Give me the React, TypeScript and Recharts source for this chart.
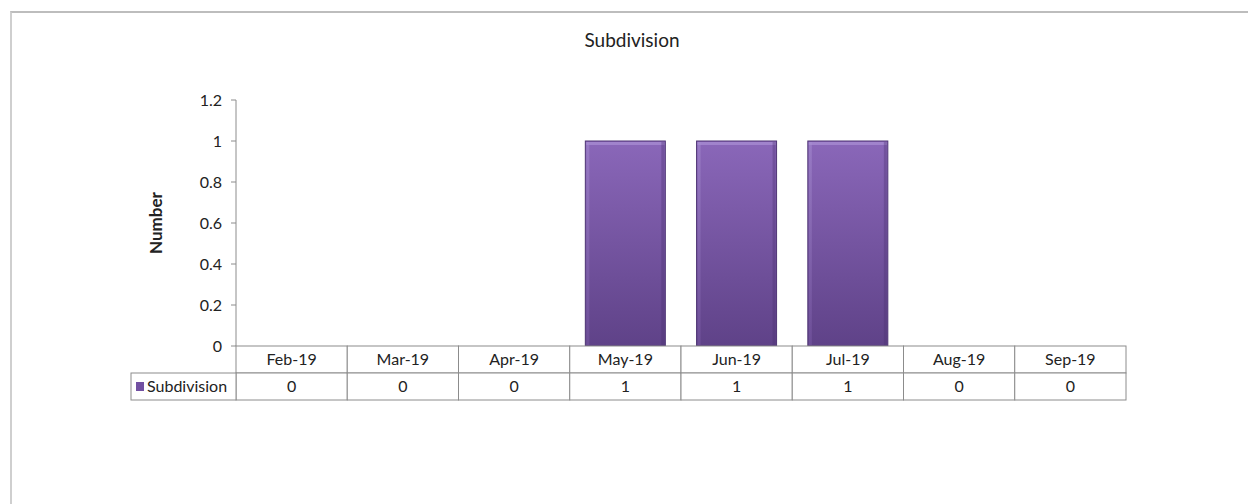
import { BarChart, Bar, XAxis, YAxis, Customized } from 'recharts';

const months = ['Feb-19', 'Mar-19', 'Apr-19', 'May-19', 'Jun-19', 'Jul-19', 'Aug-19', 'Sep-19'];
const subdivision = [0, 0, 0, 1, 1, 1, 0, 0];
const yTicks = [0, 0.2, 0.4, 0.6, 0.8, 1, 1.2];
const seriesName = 'Subdivision';
const chartTitle = 'Subdivision';
const yTitle = 'Number';

const data = months.map((month, i) => ({ month, value: subdivision[i] }));

const FONT = 'Lato, "Open Sans", sans-serif';
const GRID = '#8c8c8c';
const PLOT_LEFT = 236;
const PLOT_RIGHT = 1126;
const COL_W = (PLOT_RIGHT - PLOT_LEFT) / months.length;
const ROW_H = 27;
const LEGEND_W = 105;
const TXT = 16;

// draws one column of the data table under the axis
function TableTick(props: any) {
  const { x, y, payload } = props;
  const idx = payload.index;
  const left = x - COL_W / 2;
  return (
    <g>
      <rect x={left} y={y} width={COL_W} height={ROW_H} fill="#fff" stroke={GRID} />
      <rect x={left} y={y + ROW_H} width={COL_W} height={ROW_H} fill="#fff" stroke={GRID} />
      <text x={x} y={y + 19} textAnchor="middle" fontSize={TXT} fill="#222" fontFamily={FONT}>
        {payload.value}
      </text>
      <text x={x} y={y + ROW_H + 19} textAnchor="middle" fontSize={TXT} fill="#222" fontFamily={FONT}>
        {subdivision[idx]}
      </text>
      {idx === 0 && (
        <g>
          <rect x={left - LEGEND_W} y={y + ROW_H} width={LEGEND_W} height={ROW_H} fill="#fff" stroke={GRID} />
          <rect x={left - LEGEND_W + 5} y={y + ROW_H + 9} width={8} height={9} fill="#7250a2" />
          <text x={left - LEGEND_W + 16} y={y + ROW_H + 19} fontSize={TXT} fill="#222" fontFamily={FONT}>
            {seriesName}
          </text>
        </g>
      )}
    </g>
  );
}

function BevelBar(props: any) {
  const { x, y, width, height } = props;
  if (!height || height <= 0) return null;
  return (
    <g>
      <rect x={x} y={y} width={width} height={height} fill="url(#barGrad)" stroke="#4e3474" strokeWidth={1} />
      <rect x={x + 1} y={y + 1} width={width - 2} height={3} fill="#a68bd1" opacity={0.8} />
      <rect x={x + 1} y={y + 1} width={3} height={height - 2} fill="url(#edgeGrad)" opacity={0.5} />
      <rect x={x + width - 4} y={y + 1} width={3} height={height - 2} fill="#4b3170" opacity={0.35} />
    </g>
  );
}

function Titles() {
  return (
    <g>
      <text x={632} y={47} textAnchor="middle" fontSize={19} fill="#222" fontFamily={FONT}>
        {chartTitle}
      </text>
      <text
        x={155}
        y={223}
        textAnchor="middle"
        dominantBaseline="central"
        fontSize={17}
        fontWeight="bold"
        fill="#222"
        fontFamily={FONT}
        transform="rotate(-90 155 223)"
      >
        {yTitle}
      </text>
    </g>
  );
}

export default function App() {
  return (
    <div style={{ position: 'absolute', left: 0, top: 0, width: 1248, height: 504, background: '#fff' }}>
      <div
        style={{
          position: 'absolute',
          left: 10,
          top: 11,
          width: 1260,
          height: 520,
          borderTop: '2px solid #bdbdbd',
          borderLeft: '2px solid #cfcfcf',
        }}
      />
      <BarChart
        width={1248}
        height={504}
        data={data}
        margin={{ top: 100, right: 1248 - PLOT_RIGHT, bottom: 104, left: 130 }}
        barCategoryGap="14%"
        style={{ position: 'absolute', left: 0, top: 0 }}
      >
        <defs>
          <linearGradient id="barGrad" x1="0" y1="0" x2="0" y2="1">
            <stop offset="0%" stopColor="#8a67b9" />
            <stop offset="100%" stopColor="#5f4288" />
          </linearGradient>
          <linearGradient id="edgeGrad" x1="0" y1="0" x2="0" y2="1">
            <stop offset="0%" stopColor="#a88fd2" />
            <stop offset="100%" stopColor="#7a5aa6" />
          </linearGradient>
        </defs>
        <XAxis
          dataKey="month"
          height={54}
          tickSize={0}
          tickMargin={0}
          axisLine={false}
          tickLine={false}
          tick={<TableTick />}
          interval={0}
        />
        <YAxis
          width={106}
          domain={[0, 1.2]}
          ticks={yTicks}
          interval={0}
          axisLine={{ stroke: GRID }}
          tickLine={{ stroke: GRID }}
          tickSize={5}
          tickMargin={9}
          tick={{ fontSize: TXT, fill: '#222', fontFamily: FONT }}
        />
        <Bar dataKey="value" name={seriesName} shape={<BevelBar />} isAnimationActive={false} />
        <Customized component={Titles} />
      </BarChart>
    </div>
  );
}
